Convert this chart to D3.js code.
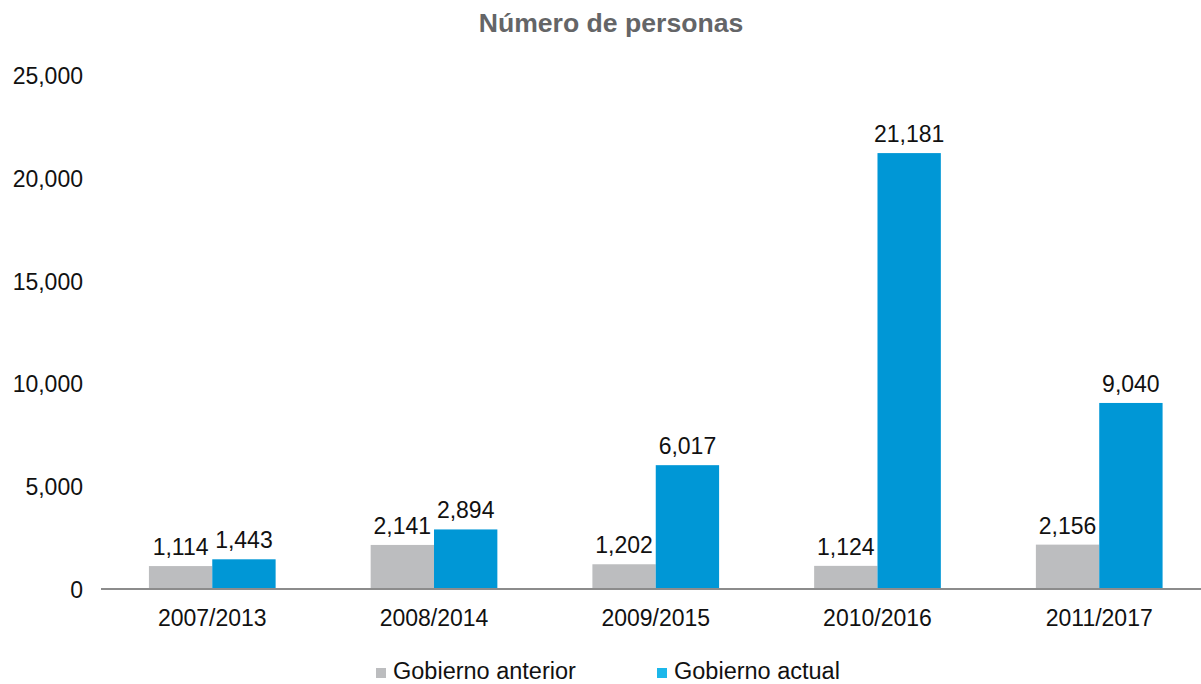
<!DOCTYPE html>
<html>
<head>
<meta charset="utf-8">
<script src="https://cdn.jsdelivr.net/npm/d3@7"></script>
<style>
  body { margin: 0; background: #fff; }
  svg { display: block; font-family: "Liberation Sans", Arial, Helvetica, sans-serif; }
</style>
</head>
<body>
<svg id="chart"></svg>
<script>
// data
const categories = ["2007/2013", "2008/2014", "2009/2015", "2010/2016", "2011/2017"];
const seriesNames = ["Gobierno anterior", "Gobierno actual"];
const anterior = [1114, 2141, 1202, 1124, 2156];
const actual = [1443, 2894, 6017, 21181, 9040];
const yTicks = [0, 5000, 10000, 15000, 20000, 25000];

const barColors = ["#bcbdbf", "#0097d6"];
const legendColors = ["#bcbdbf", "#1cb7ea"];

const width = 1201,
  height = 684;

const svg = d3.select("#chart").attr("width", width).attr("height", height);

// scales
const x0 = d3.scaleBand().domain(categories).range([101.4, 1210.1]).padding(0);
const bw = x0.bandwidth();
const x1 = d3
  .scaleBand()
  .domain(seriesNames)
  .range([bw * 0.2143, bw * 0.7857])
  .padding(0);

const y = d3.scaleLinear().domain([0, 25000]).range([589, 74.5]);

const fmt = d3.format(",");

// title
svg
  .append("text")
  .attr("x", 611)
  .attr("y", 32)
  .attr("text-anchor", "middle")
  .attr("font-weight", "bold")
  .attr("font-size", "26.6px")
  .attr("fill", "#646567")
  .text("Número de personas");

// y tick labels (no axis line)
svg
  .append("g")
  .selectAll("text")
  .data(yTicks)
  .enter()
  .append("text")
  .attr("x", 83)
  .attr("y", (d) => y(d))
  .attr("dy", "0.4em")
  .attr("text-anchor", "end")
  .attr("font-size", "23px")
  .attr("fill", "#111")
  .text((d) => fmt(d));

// bars
const rows = categories.map((c, i) => ({
  category: c,
  values: [anterior[i], actual[i]],
}));

const groups = svg
  .append("g")
  .selectAll("g")
  .data(rows)
  .enter()
  .append("g")
  .attr("transform", (d) => `translate(${x0(d.category)},0)`);

groups
  .selectAll("rect")
  .data((d) => d.values.map((v, j) => ({ name: seriesNames[j], value: v, j: j })))
  .enter()
  .append("rect")
  .attr("x", (d) => x1(d.name))
  .attr("y", (d) => y(d.value))
  .attr("width", x1.bandwidth())
  .attr("height", (d) => y(0) - y(d.value))
  .attr("fill", (d) => barColors[d.j]);

// value labels
groups
  .selectAll(".val")
  .data((d) => d.values.map((v, j) => ({ name: seriesNames[j], value: v })))
  .enter()
  .append("text")
  .attr("class", "val")
  .attr("x", (d) => x1(d.name) + x1.bandwidth() / 2)
  .attr("y", (d) => y(d.value) - 11)
  .attr("text-anchor", "middle")
  .attr("font-size", "23px")
  .attr("fill", "#111")
  .text((d) => fmt(d.value));

// x axis line + category labels
svg
  .append("line")
  .attr("x1", 101)
  .attr("x2", width)
  .attr("y1", y(0))
  .attr("y2", y(0))
  .attr("stroke", "#8c8c8c")
  .attr("stroke-width", 2);

svg
  .append("g")
  .selectAll("text")
  .data(categories)
  .enter()
  .append("text")
  .attr("x", (d) => x0(d) + bw / 2)
  .attr("y", 626)
  .attr("text-anchor", "middle")
  .attr("font-size", "23px")
  .attr("fill", "#111")
  .text((d) => d);

// legend
const legendX = [376, 657];
const legend = svg
  .append("g")
  .selectAll("g")
  .data(seriesNames)
  .enter()
  .append("g")
  .attr("transform", (d, i) => `translate(${legendX[i]},668)`);

legend
  .append("rect")
  .attr("width", 10)
  .attr("height", 10)
  .attr("fill", (d, i) => legendColors[i]);

legend
  .append("text")
  .attr("x", 17)
  .attr("y", 11)
  .attr("font-size", "23.5px")
  .attr("fill", "#111")
  .text((d) => d);
</script>
</body>
</html>
